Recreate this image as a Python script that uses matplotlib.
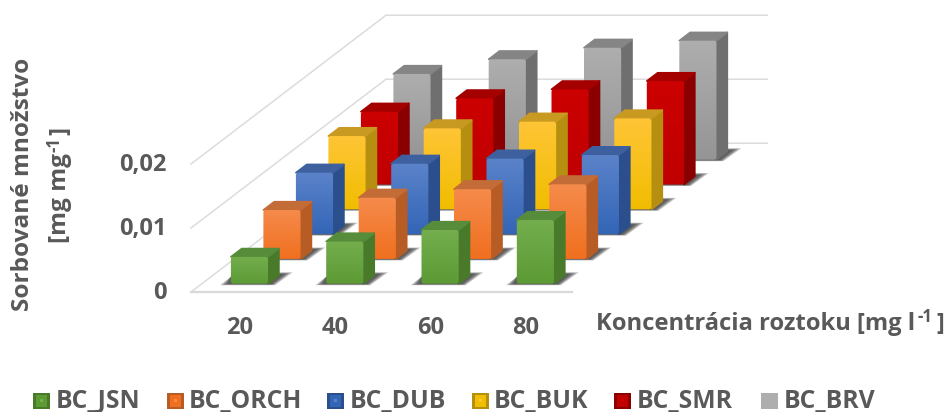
import matplotlib
matplotlib.use("Agg")
import matplotlib.pyplot as plt
import numpy as np
from matplotlib.colors import to_rgb
from matplotlib.patches import FancyBboxPatch, Polygon, Rectangle

plt.rcParams['font.family'] = ['Open Sans', 'DejaVu Sans']

categories = ['20', '40', '60', '80']
series_names = ['BC_JSN', 'BC_ORCH', 'BC_DUB', 'BC_BUK', 'BC_SMR', 'BC_BRV']
bc_jsn = [0.0042, 0.0066, 0.0084, 0.00995]
bc_orch = [0.00765, 0.00956, 0.0109, 0.01166]
bc_dub = [0.0096, 0.0110, 0.0118, 0.01235]
bc_buk = [0.01145, 0.01265, 0.0137, 0.0142]
bc_smr = [0.01138, 0.01347, 0.01488, 0.01617]
bc_brv = [0.0134, 0.0157, 0.0175, 0.0186]
all_values = [bc_jsn, bc_orch, bc_dub, bc_buk, bc_smr, bc_brv]
grid_values = [0, 0.01, 0.02]
grid_labels = ['0', '0,01', '0,02']

# front top, front bottom, side, top lid
palette = [
    ('#74ae4e', '#5c9a34', '#487a2a', '#568c3a'),
    ('#f58b4c', '#f06f1e', '#b65c24', '#c46c38'),
    ('#5b83ca', '#3365b6', '#2a4f8c', '#3e609f'),
    ('#ffc537', '#f1bd00', '#b78f10', '#c99a22'),
    ('#cc0000', '#c00000', '#8a0000', '#a40000'),
    ('#aeaeae', '#959595', '#6f6f6f', '#858585'),
]

# oblique floor geometry, in pixels
ORIGIN_X, ORIGIN_Y = 191, 292
CAT_W = 95.3
DEPTH_DX, DEPTH_DY = 32.5, -24.8
PX_PER_UNIT = 6400
BAR_W = 0.39
BAR_D = 1 / 3
GREY = '#595959'
FS_TICK = 17
FS_LEG = 17.8
FS_TITLE = 17.6
FS_XTITLE = 17.1
FS_SUP = 12


def project(cat, depth, value=0.0):
    x = ORIGIN_X + cat * CAT_W + depth * DEPTH_DX
    y = ORIGIN_Y + depth * DEPTH_DY - value * PX_PER_UNIT
    return x, y


def gradient(ax, box, top, bottom, clip):
    c0, c1 = np.array(to_rgb(top)), np.array(to_rgb(bottom))
    t = np.linspace(0, 1, 64)[:, None, None]
    img = c0[None, None, :] * (1 - t) + c1[None, None, :] * t
    im = ax.imshow(img, extent=box, aspect='auto', origin='upper',
                   interpolation='bilinear', zorder=clip.get_zorder())
    im.set_clip_path(clip)


def draw_shadow(ax, xl, xr, yb, z):
    # soft floor shadow built from stacked translucent layers
    for k in range(7):
        pts = [(xl - 11 + k * 1.3, yb + 1.5 - k * 0.2), (xr + 7 - k * 0.6, yb + 1.5 - k * 0.2),
               (xr + 25 - k * 1.5, yb - 11.5 + k * 0.3), (xr + 8, yb - 11.5 + k * 0.3),
               (xl, yb - 7)]
        ax.add_patch(Polygon(pts, closed=True, fc='#2a2a2a', ec='none', alpha=0.18, zorder=z))


def draw_bar(ax, cat, s, value, cols, z):
    top_c, bot_c, side_c, lid_c = cols
    d0 = s + (1 - BAR_D) / 2
    d1 = d0 + BAR_D
    c0 = cat + (1 - BAR_W) / 2
    c1 = c0 + BAR_W
    xl, yb = project(c0, d0)
    xr, yt = project(c1, d0, value)

    draw_shadow(ax, xl, xr, yb, z)

    side = [project(c1, d0), project(c1, d1), project(c1, d1, value), project(c1, d0, value)]
    lid = [project(c0, d0, value), project(c1, d0, value), project(c1, d1, value), project(c0, d1, value)]
    for pts, col in ((side, side_c), (lid, lid_c)):
        ax.add_patch(Polygon(pts, closed=True, fc=col, ec=col, lw=1.2, joinstyle='round', zorder=z + 0.1))

    face = FancyBboxPatch((xl + 1.5, yt + 1.5), xr - xl - 3, yb - yt - 3,
                          boxstyle='round,pad=1.5,rounding_size=2.5',
                          fc='none', ec='none', zorder=z + 0.2, transform=ax.transData)
    ax.add_patch(face)
    gradient(ax, (xl - 1, xr + 1, yb + 1, yt - 1), top_c, bot_c, face)


def draw_key(ax, x, y, size, cols, plain=False):
    top_c, bot_c, side_c, lid_c = cols
    if plain:
        ax.add_patch(Rectangle((x, y), size, size, fc=top_c, ec='none', zorder=5))
        return
    ax.add_patch(Rectangle((x, y), size, size, fc=side_c, ec='none', zorder=5))
    ax.add_patch(Rectangle((x + 3, y + 2), size - 6, size - 4, fc=bot_c, ec='none', zorder=5.1))
    ax.add_patch(Rectangle((x + size / 2 - 1.5, y + size / 2 - 1.5), 3, 3, fc=top_c, ec='none', zorder=5.2))


def label(x, y, s, size, **kw):
    return ax.text(x, y, s, fontsize=size, fontweight='bold', color=GREY, va='center', **kw)


fig = plt.figure(figsize=(9.5, 4.12), dpi=100)
ax = fig.add_axes([0, 0, 1, 1])

# walls and floor lines
line = dict(color='#dcdcdc', lw=1.1, zorder=1)
for v in grid_values:
    x0, y0 = project(0, 0, v)
    x1, y1 = project(0, 6, v)
    x2, y2 = project(4, 6, v)
    ax.plot([x0, x1, x2], [y0, y1, y2], **line)
x0, y0 = project(0, 0)
x1, y1 = project(4, 0)
ax.plot([x0, x1], [y0, y1], color='#d9d9d9', lw=1.6, zorder=1)

# painted from the back row to the front one
for s in range(len(all_values) - 1, -1, -1):
    for c, value in enumerate(all_values[s]):
        draw_bar(ax, c, s, value, palette[s], 2 + (5 - s))

for v, lab in zip(grid_values, grid_labels):
    label(167, project(0, 0, v)[1] + 1, lab, FS_TICK, ha='right')
for c, lab in enumerate(categories):
    label(project(c + 0.5, 0)[0] + 1, 328, lab, FS_TICK, ha='center')

# axis titles, the exponents are separate small texts
label(596, 324, 'Koncentrácia roztoku [mg l', FS_XTITLE, ha='left')
label(917, 317, '-1', FS_SUP, ha='left')
label(936, 324, ']', FS_XTITLE, ha='left')

label(23, 184, 'Sorbované množstvo', FS_TITLE, rotation=90, ha='center')
label(60, 198, '[mg mg', FS_TITLE, rotation=90, ha='center')
label(54, 145, '-1', FS_SUP, rotation=90, ha='center')
label(60, 131, ']', FS_TITLE, rotation=90, ha='center')

# legend row
key_x = [33, 167, 327, 472, 614, 761]
text_x = [56, 189, 350, 494, 637, 784]
for i, name in enumerate(series_names):
    draw_key(ax, key_x[i], 392.5, 16.5, palette[i], plain=(i == 5))
    label(text_x[i], 401, name, FS_LEG, ha='left')

ax.set_xlim(0, 950)
ax.set_ylim(412, 0)
ax.axis('off')
fig.savefig('out.png', dpi=100)
